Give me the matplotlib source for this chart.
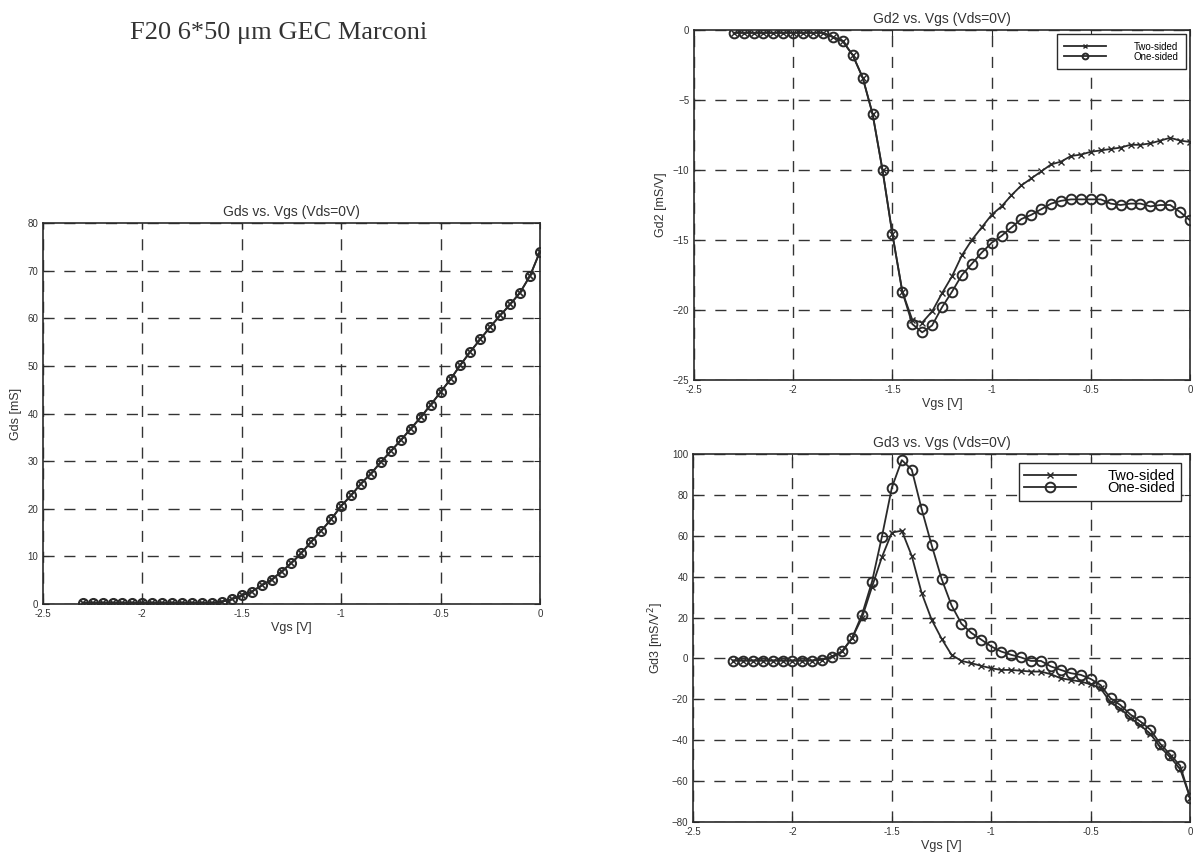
import numpy as np
import matplotlib.pyplot as plt

plt.rcParams['font.family'] = ['Liberation Sans', 'DejaVu Sans']

# Vgs sweep: -2.3 V to 0 V in 0.05 V steps (47 points)
vgs = np.round(np.arange(-2.3, 0.001, 0.05), 2)

gds = [0.2, 0.2, 0.2, 0.2, 0.2, 0.2, 0.2, 0.2, 0.2, 0.2, 0.2, 0.2, 0.2, 0.2,
       0.5, 1.0, 1.8, 2.6, 3.9, 5.1, 6.8, 8.6, 10.7, 13.1, 15.4, 17.8, 20.6,
       22.8, 25.3, 27.4, 29.8, 32.1, 34.4, 36.8, 39.2, 41.8, 44.5, 47.2, 50.2,
       53.0, 55.6, 58.2, 60.6, 62.9, 65.4, 68.9, 74.0]

gd2_two = [-0.2, -0.2, -0.2, -0.2, -0.2, -0.2, -0.2, -0.2, -0.2, -0.2, -0.5,
           -0.8, -1.8, -3.4, -6.0, -10.0, -14.6, -18.7, -20.7, -20.9, -20.1,
           -18.8, -17.6, -16.1, -15.0, -14.1, -13.2, -12.6, -11.8, -11.1, -10.6,
           -10.1, -9.6, -9.4, -9.0, -8.9, -8.7, -8.6, -8.5, -8.4, -8.2, -8.2,
           -8.1, -7.9, -7.7, -7.9, -8.0]
gd2_one = [-0.2, -0.2, -0.2, -0.2, -0.2, -0.2, -0.2, -0.2, -0.2, -0.2, -0.5,
           -0.8, -1.8, -3.4, -6.0, -10.0, -14.6, -18.7, -21.0, -21.6, -21.1,
           -19.8, -18.7, -17.5, -16.7, -15.9, -15.2, -14.7, -14.1, -13.5, -13.2,
           -12.8, -12.4, -12.2, -12.1, -12.1, -12.1, -12.1, -12.4, -12.5, -12.4,
           -12.4, -12.6, -12.5, -12.5, -13.0, -13.6]

gd3_two = [-1.0, -1.0, -1.0, -1.0, -1.0, -1.0, -1.0, -1.0, -1.0, -0.5, 1.0,
           3.5, 10.0, 20.0, 35.0, 49.6, 61.6, 62.5, 50.2, 32.0, 19.0, 9.7, 1.8,
           -1.2, -2.3, -3.6, -4.8, -5.6, -5.6, -6.0, -6.4, -6.4, -7.7, -9.7,
           -10.5, -11.3, -12.6, -14.6, -21.5, -24.5, -29.0, -32.7, -36.8, -43.3,
           -48.3, -54.0, -68.0]
gd3_one = [-1.0, -1.0, -1.0, -1.0, -1.0, -1.0, -1.0, -1.0, -1.0, -0.5, 0.5,
           3.5, 10.0, 21.5, 37.5, 59.6, 83.6, 97.0, 92.4, 73.0, 55.5, 39.0,
           26.0, 17.0, 12.5, 9.2, 5.9, 3.4, 1.8, 0.5, -1.2, -1.2, -3.9, -5.6,
           -7.2, -8.0, -10.0, -13.0, -19.5, -22.8, -27.4, -30.8, -34.8, -41.7,
           -47.0, -52.4, -68.0]

LINE = '#2a2a2a'


def style_axes(ax, title, ylabel, ylim, yticks):
    ax.set_xlim(-2.5, 0)
    ax.set_ylim(*ylim)
    ax.set_xticks([-2.5, -2, -1.5, -1, -0.5, 0])
    ax.set_xticklabels(['-2.5', '-2', '-1.5', '-1', '-0.5', '0'])
    ax.set_yticks(yticks)
    ax.tick_params(direction='in', length=4, labelsize=7, top=True, right=True,
                   color=LINE, labelcolor='#333333')
    ax.grid(True, linestyle=(0, (8, 7)), color='#333333', linewidth=1.0)
    for s in ax.spines.values():
        s.set_color(LINE)
        s.set_linewidth(1.2)
    ax.set_title(title, fontsize=10, color='#333333', pad=5)
    ax.set_xlabel('Vgs [V]', fontsize=9, color='#333333', labelpad=2)
    ax.set_ylabel(ylabel, fontsize=9, color='#333333', labelpad=4)


fig = plt.figure(figsize=(11.97, 8.57), dpi=100)
fig.text(0.233, 0.962, 'F20 6*50 \u03bcm GEC Marconi', fontsize=19,
         family=['Liberation Serif', 'DejaVu Serif'], color='#333333',
         ha='center', va='center')

# Gds
ax1 = fig.add_axes([0.0359, 0.2952, 0.4152, 0.4446])
ax1.plot(vgs, gds, color=LINE, lw=1.3, marker='x', ms=4, mew=1.2)
ax1.plot(vgs, gds, color=LINE, lw=1.3, marker='o', ms=6.5, mfc='none', mew=1.5)
style_axes(ax1, 'Gds vs. Vgs (Vds=0V)', 'Gds [mS]', (0, 80), range(0, 81, 10))

# Gd2
ax2 = fig.add_axes([0.5798, 0.5566, 0.4144, 0.4084])
ax2.plot(vgs, gd2_two, color=LINE, lw=1.3, marker='x', ms=4, mew=1.0,
         label='Two-sided')
ax2.plot(vgs, gd2_one, color=LINE, lw=1.3, marker='o', ms=7, mfc='none',
         mew=1.4, label='One-sided')
style_axes(ax2, 'Gd2 vs. Vgs (Vds=0V)', 'Gd2 [mS/V]', (-25, 0),
           range(-25, 1, 5))
leg2 = ax2.legend(loc='upper right', prop={'size': 7}, fancybox=False,
                  edgecolor=LINE, framealpha=1, handlelength=4.3,
                  handletextpad=2.8, borderpad=0.8, borderaxespad=0.4,
                  labelspacing=0.0, markerscale=0.6)
leg2.get_frame().set_linewidth(1.0)

# Gd3
ax3 = fig.add_axes([0.579, 0.0408, 0.4152, 0.4294])
ax3.plot(vgs, gd3_two, color=LINE, lw=1.3, marker='x', ms=4, mew=1.0,
         label='Two-sided')
ax3.plot(vgs, gd3_one, color=LINE, lw=1.3, marker='o', ms=7, mfc='none',
         mew=1.4, label='One-sided')
style_axes(ax3, 'Gd3 vs. Vgs (Vds=0V)', 'Gd3 [mS/V$^2$]', (-80, 100),
           range(-80, 101, 20))
leg3 = ax3.legend(loc='upper right', prop={'size': 10.5}, fancybox=False,
                  edgecolor=LINE, framealpha=1, handlelength=3.5,
                  handletextpad=2.2, borderpad=0.4, borderaxespad=0.6,
                  labelspacing=-0.1)
leg3.get_frame().set_linewidth(1.0)

fig.savefig('out.png', dpi=100)
